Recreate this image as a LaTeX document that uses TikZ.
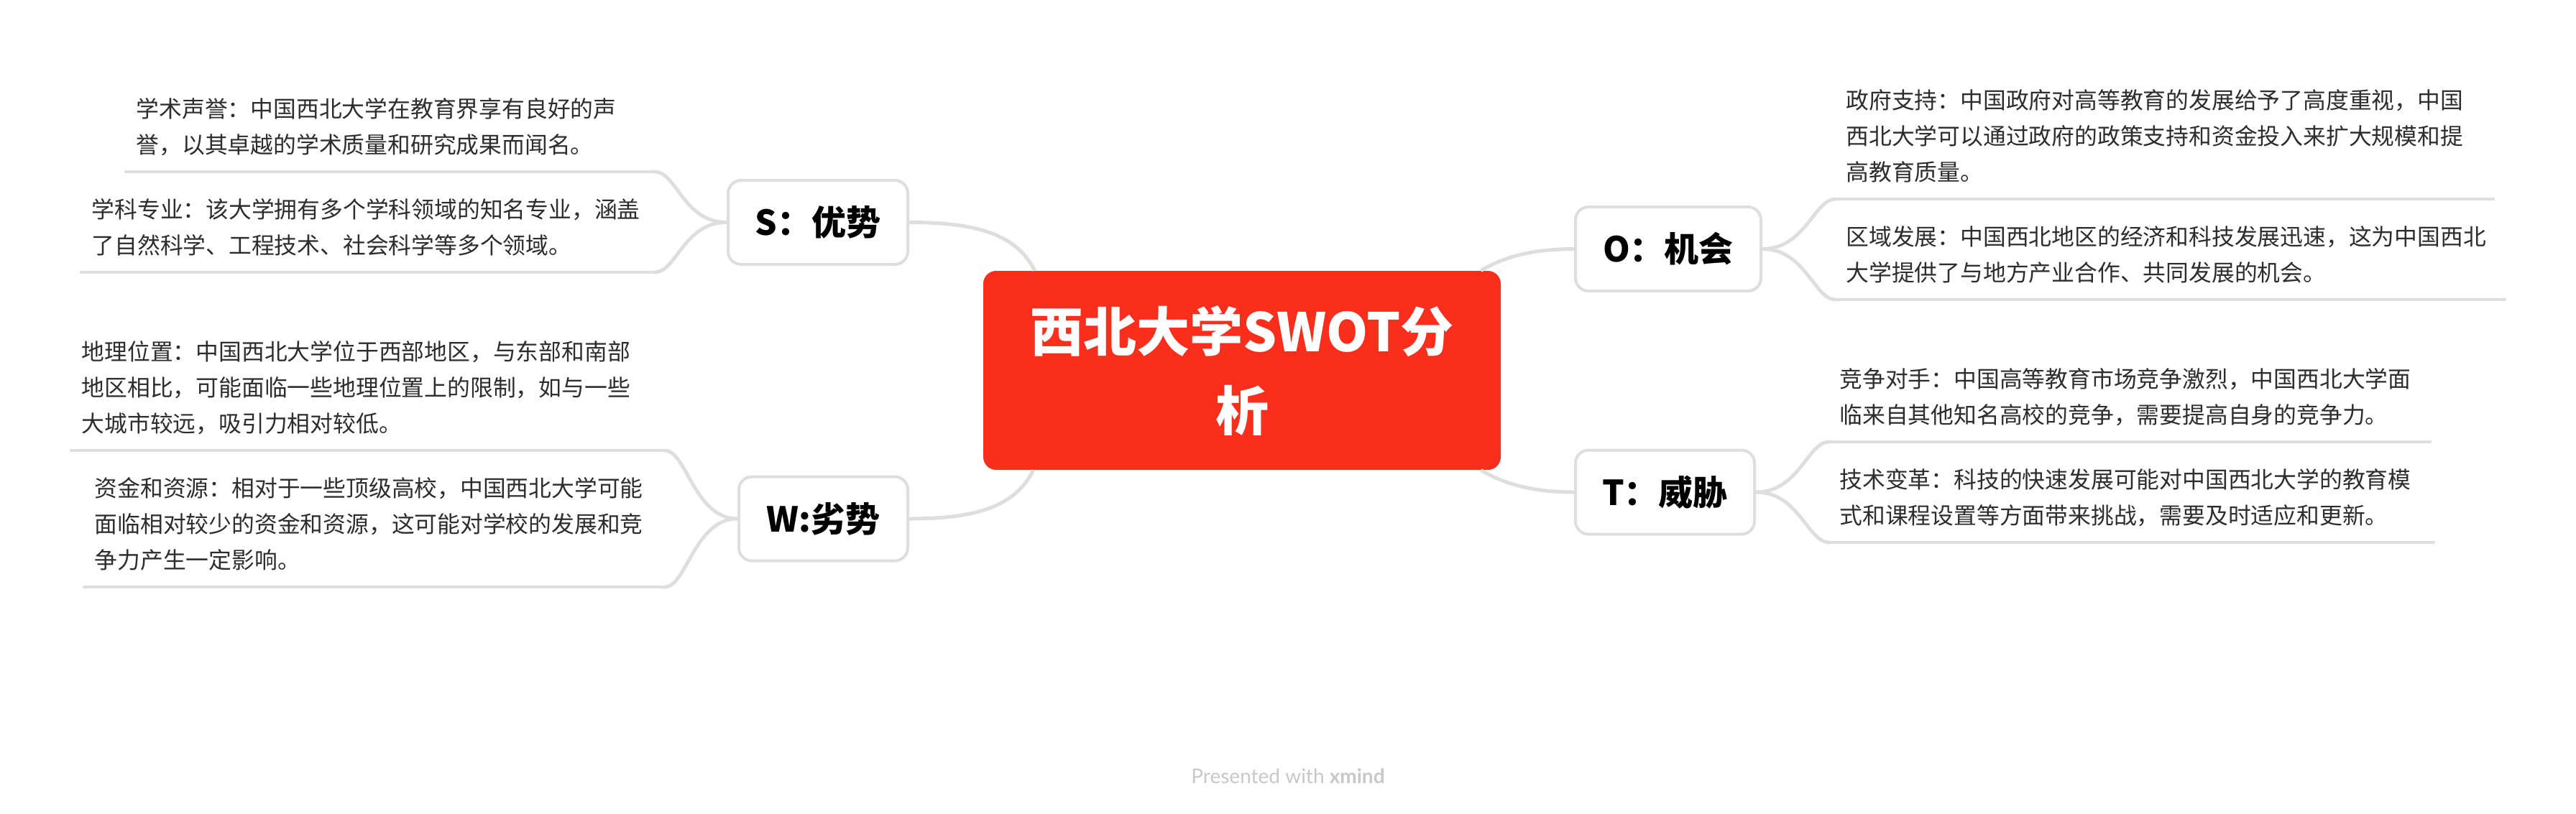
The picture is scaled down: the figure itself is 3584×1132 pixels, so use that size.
\documentclass[tikz,border=0pt]{standalone}
\usepackage{fontspec}
\setmainfont{Noto Sans CJK SC}
\newfontfamily\footfont{Lato}
\usetikzlibrary{calc}
\definecolor{swotred}{RGB}{249,46,28}
\definecolor{linkgray}{RGB}{222,222,222}
\definecolor{leaftext}{RGB}{45,45,45}
\definecolor{footgray}{RGB}{200,200,200}
\tikzset{
	central/.style={
		fill=swotred,
		rounded corners=9pt,
		minimum width=360pt,
		minimum height=138.5pt,
		align=center,
		text=white,
		font=\bfseries\fontsize{37}{55}\selectfont,
	},
	branch/.style={
		draw=linkgray,
		line width=2pt,
		fill=white,
		rounded corners=9pt,
		minimum height=58.5pt,
		font=\bfseries\fontsize{24}{28}\selectfont,
	},
	leaf/.style={
		align=left,
		inner xsep=7pt,
		inner ysep=5pt,
		text=leaftext,
		font=\fontsize{15.9}{25}\selectfont,
		execute at end node=\strut,
	},
	mainlink/.style={
		draw=linkgray,
		line width=2.5pt,
	},
	leaflink/.style={
		draw=linkgray,
		line width=2.4pt,
		line cap=round,
	},
}

\begin{document}
\begin{tikzpicture}[x=0.5pt,y=-0.5pt]
		\fill[white] (0,0) rectangle (3584,1132);
		\useasboundingbox (0,0) rectangle (3584,1132);

		\node[central] (swot) at (1728,515.5) {西北大学SWOT分\\析};

		\node[branch, minimum width=125pt, anchor=east] (strength) at (1265,309.5) {S：优势};
		\node[branch, minimum width=117.5pt, anchor=east] (weakness) at (1265,722) {W:劣势};
		\node[branch, minimum width=129pt, anchor=west] (chance) at (2190,346.5) {O：机会};
		\node[branch, minimum width=124.5pt, anchor=west] (threat) at (2190,685) {T：威胁};

		\node[leaf, text width=353.5pt, anchor=south east] (reputation) at (911,239) {学术声誉：中国西北大学在教育界享有良好的声\\誉，以其卓越的学术质量和研究成果而闻名。};
		\node[leaf, text width=384.5pt, anchor=south east] (discipline) at (911,379) {学科专业：该大学拥有多个学科领域的知名专业，涵盖\\了自然科学、工程技术、社会科学等多个领域。};
		\node[leaf, text width=398.5pt, anchor=south east] (location) at (925,627) {地理位置：中国西北大学位于西部地区，与东部和南部\\地区相比，可能面临一些地理位置上的限制，如与一些\\大城市较远，吸引力相对较低。};
		\node[leaf, text width=389.5pt, anchor=south east] (funding) at (925,817) {资金和资源：相对于一些顶级高校，中国西北大学可能\\面临相对较少的资金和资源，这可能对学校的发展和竞\\争力产生一定影响。};
		\node[leaf, text width=443pt, anchor=south west] (policy) at (2554,277) {政府支持：中国政府对高等教育的发展给予了高度重视，中国\\西北大学可以通过政府的政策支持和资金投入来扩大规模和提\\高教育质量。};
		\node[leaf, text width=451pt, anchor=south west] (region) at (2554,417) {区域发展：中国西北地区的经济和科技发展迅速，这为中国西北\\大学提供了与地方产业合作、共同发展的机会。};
		\node[leaf, text width=403.5pt, anchor=south west] (rival) at (2545,615) {竞争对手：中国高等教育市场竞争激烈，中国西北大学面\\临来自其他知名高校的竞争，需要提高自身的竞争力。};
		\node[leaf, text width=406pt, anchor=south west] (techchange) at (2545,755) {技术变革：科技的快速发展可能对中国西北大学的教育模\\式和课程设置等方面带来挑战，需要及时适应和更新。};

		\node[font=\footfont\fontsize{14}{17}\selectfont, text=footgray] (credit) at (1792,1080) {Presented with \textbf{xmind}};

		\draw[mainlink] (strength.east) .. controls +(95,0) and +(-25,-50) .. ($(swot.north west)+(72,0)$);
		\draw[mainlink] (weakness.east) .. controls +(95,0) and +(-25,50) .. ($(swot.south west)+(70,0)$);
		\draw[mainlink] (chance.west) .. controls +(-60,0) and +(30,-18) .. ($(swot.north east)+(-28,0)$);
		\draw[mainlink] (threat.west) .. controls +(-60,0) and +(30,18) .. ($(swot.south east)+(-28,0)$);

		\foreach \leaf in {reputation,discipline,location,funding,policy,region,rival,techchange}
			\draw[leaflink] (\leaf.south west) -- (\leaf.south east);

		\draw[leaflink] (strength.west) .. controls +(-60,0) and +(30,0) .. (reputation.south east);
		\draw[leaflink] (strength.west) .. controls +(-60,0) and +(30,0) .. (discipline.south east);
		\draw[leaflink] (weakness.west) .. controls +(-60,0) and +(30,0) .. (location.south east);
		\draw[leaflink] (weakness.west) .. controls +(-60,0) and +(30,0) .. (funding.south east);
		\draw[leaflink] (chance.east) .. controls +(60,0) and +(-30,0) .. (policy.south west);
		\draw[leaflink] (chance.east) .. controls +(60,0) and +(-30,0) .. (region.south west);
		\draw[leaflink] (threat.east) .. controls +(60,0) and +(-30,0) .. (rival.south west);
		\draw[leaflink] (threat.east) .. controls +(60,0) and +(-30,0) .. (techchange.south west);

	\end{tikzpicture}
\end{document}
